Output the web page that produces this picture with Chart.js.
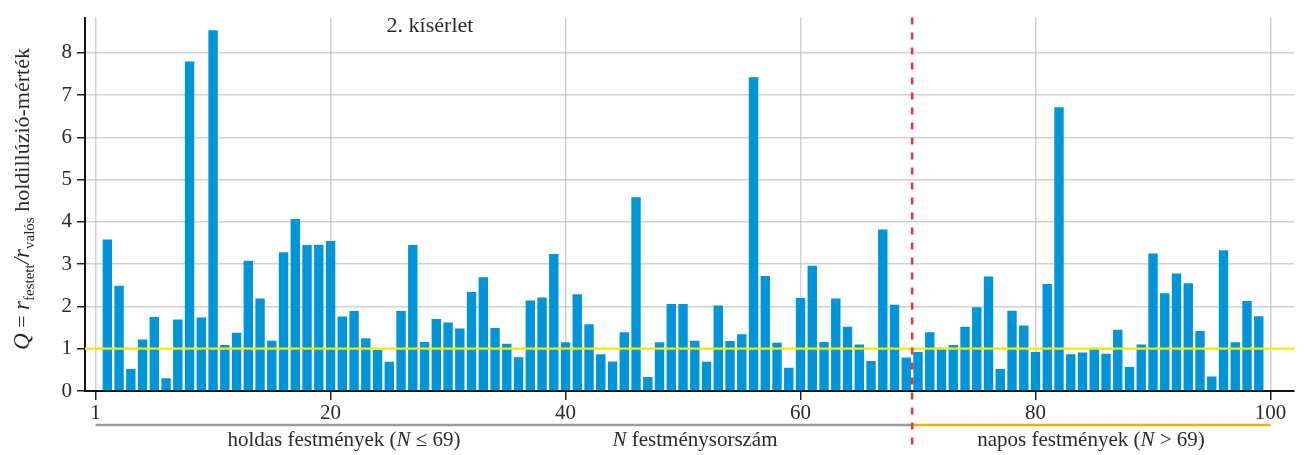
<!DOCTYPE html>
<html><head><meta charset="utf-8">
<script src="https://cdn.jsdelivr.net/npm/chart.js@4.4.0/dist/chart.umd.min.js"></script>
<style>html,body{margin:0;padding:0;background:#fff}#wrap{width:1305px;height:455px}</style>
</head><body><div id="wrap"><canvas id="c" width="1305" height="455"></canvas></div>
<script>
// ---- data ----
const paintingN = [1,2,3,4,5,6,7,8,9,10,11,12,13,14,15,16,17,18,19,20,
  21,22,23,24,25,26,27,28,29,30,31,32,33,34,35,36,37,38,39,40,
  41,42,43,44,45,46,47,48,49,50,51,52,53,54,55,56,57,58,59,60,
  61,62,63,64,65,66,67,68,69,70,71,72,73,74,75,76,77,78,79,80,
  81,82,83,84,85,86,87,88,89,90,91,92,93,94,95,96,97,98,99];
const qValues = [3.58,2.49,0.52,1.22,1.75,0.30,1.69,7.79,1.74,8.53,
  1.09,1.38,3.08,2.19,1.19,3.28,4.07,3.45,3.46,3.55,
  1.76,1.89,1.25,0.97,0.69,1.89,3.45,1.16,1.70,1.62,
  1.48,2.34,2.69,1.49,1.12,0.80,2.14,2.21,3.24,1.15,
  2.29,1.58,0.87,0.70,1.39,4.58,0.33,1.15,2.06,2.06,
  1.19,0.69,2.02,1.18,1.34,7.42,2.72,1.14,0.55,2.20,
  2.96,1.16,2.19,1.52,1.10,0.71,3.82,2.04,0.79,0.92,
  1.39,1.02,1.09,1.52,1.98,2.71,0.52,1.90,1.55,0.92,
  2.53,6.71,0.87,0.91,1.02,0.88,1.45,0.57,1.10,3.25,
  2.31,2.78,2.55,1.42,0.34,3.33,1.15,2.13,1.77];
const xTickValues = [0,20,40,60,80,100];
const xTickLabels = ['1','20','40','60','80','100'];
const yTickValues = [0,1,2,3,4,5,6,7,8];
const boundaryN = 69.5;
const referenceQ = 1;
const groupStartN = 0;
const groupEndN = 100;

const SERIF = '"Liberation Serif", "DejaVu Serif", serif';
const TEXT = '#2a2a2a';

function drawRuns(ctx, runs, cx, baseline) {
  let total = 0;
  runs.forEach(r => { ctx.font = r.font; r.w = ctx.measureText(r.text).width; total += r.w; });
  let x = cx - total / 2;
  runs.forEach(r => { ctx.font = r.font; ctx.fillText(r.text, x, baseline + (r.dy || 0)); x += r.w; });
}

const annotations = {
  id: 'annotations',
  afterDraw(chart) {
    const ctx = chart.ctx, xs = chart.scales.x, ys = chart.scales.y, ca = chart.chartArea;
    ctx.save();
    // reference line Q = 1
    ctx.strokeStyle = '#ffea00';
    ctx.lineWidth = 2.2;
    const yr = ys.getPixelForValue(referenceQ);
    ctx.beginPath(); ctx.moveTo(ca.left, yr); ctx.lineTo(ca.right, yr); ctx.stroke();

    // group underlines
    const xb = xs.getPixelForValue(boundaryN);
    const x0 = xs.getPixelForValue(groupStartN);
    const x1 = xs.getPixelForValue(groupEndN);
    ctx.lineWidth = 2.5;
    ctx.strokeStyle = '#9a9a9a';
    ctx.beginPath(); ctx.moveTo(x0, 425); ctx.lineTo(xb, 425); ctx.stroke();
    ctx.strokeStyle = '#f7b000';
    ctx.beginPath(); ctx.moveTo(xb, 425); ctx.lineTo(x1, 425); ctx.stroke();

    // boundary dashed line
    ctx.strokeStyle = '#e8333b';
    ctx.lineWidth = 2.5;
    ctx.setLineDash([7, 8]);
    ctx.beginPath(); ctx.moveTo(xb, ca.top); ctx.lineTo(xb, 449); ctx.stroke();
    ctx.setLineDash([]);

    // texts
    ctx.fillStyle = TEXT;
    ctx.textBaseline = 'alphabetic';
    ctx.textAlign = 'left';
    const f = '21px ' + SERIF, fi = 'italic 21px ' + SERIF;
    drawRuns(ctx, [{text: '2. kísérlet', font: '22px ' + SERIF}], 430, 32);
    drawRuns(ctx, [{text: 'holdas festmények (', font: f}, {text: 'N', font: fi}, {text: ' ≤ 69)', font: f}], 344, 446);
    drawRuns(ctx, [{text: 'N', font: fi}, {text: ' festménysorszám', font: f}], 695, 446);
    drawRuns(ctx, [{text: 'napos festmények (', font: f}, {text: 'N', font: fi}, {text: ' > 69)', font: f}], 1091, 446);

    // y-axis title (rotated)
    ctx.translate(29, 199);
    ctx.rotate(-Math.PI / 2);
    const F = '22px ' + SERIF, FI = 'italic 23px ' + SERIF, FS = '15px ' + SERIF;
    drawRuns(ctx, [
      {text: 'Q', font: FI}, {text: ' = ', font: F}, {text: 'r', font: FI},
      {text: 'festett', font: FS, dy: 5}, {text: '/', font: FI}, {text: 'r', font: FI},
      {text: 'valós', font: FS, dy: 5}, {text: ' holdillúzió-mérték', font: F}
    ], 0, 0);
    ctx.restore();
  }
};

const gridColor = 'rgba(180,180,180,0.6)';

new Chart(document.getElementById('c'), {
  type: 'bar',
  data: {
    datasets: [{
      data: paintingN.map((n, i) => ({x: n, y: qValues[i]})),
      backgroundColor: '#0095d9',
      borderWidth: 0,
      barPercentage: 0.8,
      categoryPercentage: 1.0
    }]
  },
  options: {
    responsive: false,
    animation: false,
    layout: {padding: {top: 8, right: 11, left: 0, bottom: 0}},
    plugins: {legend: {display: false}, tooltip: {enabled: false}},
    scales: {
      x: {
        type: 'linear', min: -0.9, max: 102, offset: false, z: 1,
        grid: {offset: false, color: gridColor, lineWidth: 1.5, tickLength: 9, tickColor: '#222', tickWidth: 1.5},
        border: {display: true, color: '#111', width: 2},
        afterBuildTicks: s => { s.ticks = xTickValues.map(v => ({value: v})); },
        ticks: {
          callback: (v, i) => xTickLabels[i],
          font: {family: SERIF, size: 21}, color: TEXT, padding: 1, maxRotation: 0, autoSkip: false
        },
        afterFit: s => { s.height = 64; }
      },
      y: {
        min: 0, max: 8.83, z: 1,
        grid: {color: gridColor, lineWidth: 1.5, tickLength: 8, tickColor: '#222', tickWidth: 1.5},
        border: {display: true, color: '#111', width: 2},
        afterBuildTicks: s => { s.ticks = yTickValues.map(v => ({value: v})); },
        ticks: {font: {family: SERIF, size: 21}, color: TEXT, padding: 5},
        afterFit: s => { s.width = 85; }
      }
    }
  },
  plugins: [annotations]
});
</script>
</body></html>
